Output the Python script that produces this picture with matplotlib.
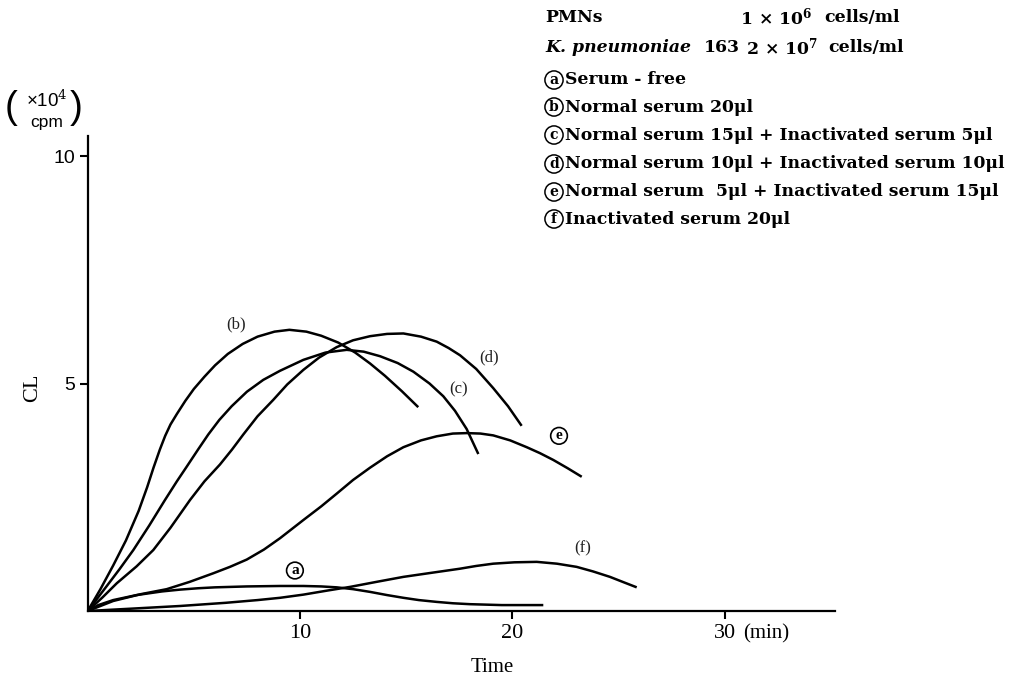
import matplotlib
matplotlib.use("Agg")
import matplotlib.pyplot as plt

plt.rcParams["font.family"] = ["Liberation Serif", "DejaVu Serif"]
plt.rcParams["mathtext.fontset"] = "custom"
plt.rcParams["mathtext.rm"] = "DejaVu Serif"
plt.rcParams["mathtext.bf"] = "DejaVu Serif:bold"
plt.rcParams["mathtext.it"] = "DejaVu Serif:italic"

# Chemiluminescence of PMNs with K. pneumoniae 163 (x: min, y: x10^4 cpm)
t_a = [0, 0.5, 1.2, 2.3, 3.5, 4.35, 5.2, 6.0, 7.5, 9.06, 10.16, 11.0, 11.73, 12.5, 13.3, 14.1, 14.87,
       15.6, 16.44, 17.2, 18.0, 19.5, 21.46]
cl_a = [0, 0.13, 0.24, 0.35, 0.43, 0.47, 0.5, 0.52, 0.54, 0.55, 0.55, 0.54, 0.52, 0.48, 0.42, 0.35, 0.29,
        0.24, 0.2, 0.17, 0.15, 0.13, 0.13]

t_b = [0, 0.6, 1.2, 1.8, 2.4, 2.8, 3.1, 3.4, 3.65, 3.9, 4.2, 4.6, 5.0, 5.5, 6.0, 6.6, 7.3, 8.0, 8.8, 9.5,
       10.3, 11.0, 11.8, 12.6, 13.3, 14.0, 14.8, 15.57]
cl_b = [0, 0.48, 1.0, 1.55, 2.2, 2.72, 3.15, 3.55, 3.85, 4.1, 4.33, 4.62, 4.88, 5.15, 5.4, 5.65, 5.87, 6.03, 6.14, 6.18,
        6.14, 6.05, 5.9, 5.68, 5.44, 5.17, 4.83, 4.48]

t_c = [0, 0.9, 1.5, 2.15, 2.9, 3.64, 4.2, 4.66, 5.2, 5.68, 6.2, 6.78, 7.5, 8.27, 9.06, 10.16, 11.2, 12.2,
       13.0, 13.77, 14.6, 15.34, 16.1, 16.75, 17.3, 17.85, 18.4]
cl_c = [0, 0.55, 0.92, 1.34, 1.88, 2.44, 2.85, 3.17, 3.55, 3.88, 4.2, 4.5, 4.82, 5.08, 5.28, 5.52, 5.68, 5.74,
        5.7, 5.6, 5.45, 5.26, 5.0, 4.72, 4.4, 4.0, 3.45]

t_d = [0, 0.7, 1.37, 2.3, 3.09, 3.9, 4.82, 5.5, 6.23, 6.8, 7.33, 8.0, 8.74, 9.4, 10.16, 10.9, 11.73, 12.5,
       13.3, 14.1, 14.87, 15.7, 16.44, 17.0, 17.54, 18.3, 19.1, 19.8, 20.44]
cl_d = [0, 0.3, 0.61, 0.98, 1.34, 1.83, 2.44, 2.85, 3.22, 3.55, 3.88, 4.28, 4.64, 4.98, 5.3, 5.57, 5.8, 5.95,
        6.04, 6.09, 6.1, 6.03, 5.92, 5.78, 5.62, 5.32, 4.9, 4.5, 4.07]

t_e = [0, 1.2, 2.5, 3.72, 4.8, 5.92, 6.7, 7.49, 8.3, 9.06, 10.16, 11.0, 11.73, 12.5, 13.3, 14.1, 14.87,
       15.7, 16.44, 17.2, 17.85, 18.5, 19.1, 19.9, 20.68, 21.3, 21.93, 22.6, 23.27]
cl_e = [0, 0.22, 0.37, 0.48, 0.64, 0.83, 0.97, 1.13, 1.35, 1.6, 2.0, 2.3, 2.58, 2.88, 3.15, 3.4, 3.6,
        3.75, 3.84, 3.9, 3.91, 3.9, 3.86, 3.75, 3.6, 3.47, 3.32, 3.14, 2.95]

t_f = [0, 2.0, 4.35, 6.5, 8.0, 9.06, 10.16, 11.3, 12.36, 13.6, 14.87, 16.2, 17.54, 18.3, 19.1, 20.1,
       21.15, 22.1, 23.03, 23.8, 24.6, 25.2, 25.86]
cl_f = [0, 0.05, 0.11, 0.18, 0.24, 0.29, 0.36, 0.45, 0.53, 0.64, 0.75, 0.84, 0.93, 0.99, 1.04, 1.07,
        1.08, 1.04, 0.97, 0.87, 0.75, 0.64, 0.52]

x_ticks = [10, 20, 30]
x_tick_labels = ["10", "20", "30"]
y_ticks = [5, 10]
y_tick_labels = ["5", "10"]

legend_letters = ["a", "b", "c", "d", "e", "f"]
legend_texts = [
    "Serum - free",
    "Normal serum 20\u03bcl",
    "Normal serum 15\u03bcl + Inactivated serum 5\u03bcl",
    "Normal serum 10\u03bcl + Inactivated serum 10\u03bcl",
    "Normal serum  5\u03bcl + Inactivated serum 15\u03bcl",
    "Inactivated serum 20\u03bcl",
]

W, H = 1023, 681
fig = plt.figure(figsize=(W / 100, H / 100), dpi=100)


def px(x, y):
    return x / W, 1 - y / H


ax = fig.add_axes([87.7 / W, 70 / H, 747.3 / W, 475 / H])
ax.set_xlim(0, 35.2)
ax.set_ylim(0, 10.44)

for t, cl in [(t_a, cl_a), (t_b, cl_b), (t_c, cl_c), (t_d, cl_d), (t_e, cl_e), (t_f, cl_f)]:
    ax.plot(t, cl, color="black", lw=1.8, solid_capstyle="butt", solid_joinstyle="round")

for s in ["top", "right"]:
    ax.spines[s].set_visible(False)
for s in ["left", "bottom"]:
    ax.spines[s].set_linewidth(1.6)

ax.set_xticks(x_ticks)
ax.set_xticklabels(x_tick_labels, fontsize=16)
ax.set_yticks(y_ticks)
ax.set_yticklabels(y_tick_labels, fontsize=14, family="Liberation Sans")
ax.tick_params(direction="out", length=6, width=1.5, pad=3)

# curve labels
for lbl, x, y in [("(b)", 7.01, 6.29), ("(c)", 17.46, 4.86), ("(d)", 18.92, 5.58), ("(f)", 23.3, 1.38)]:
    ax.text(x, y, lbl, ha="center", va="center", fontsize=12, color="#222222")
for lbl, x, y in [("a", 9.76, 0.89), ("e", 22.2, 3.85)]:
    ax.text(x, y, lbl, ha="center", va="center", fontsize=11, fontweight="bold",
            bbox=dict(boxstyle="circle,pad=0.12", fc="white", ec="black", lw=1.2))

# axis titles
fig.text(*px(492, 668), "Time", ha="center", va="center", fontsize=15)
fig.text(*px(766, 634), "(min)", ha="center", va="center", fontsize=15)
fig.text(*px(33, 388), "CL", ha="center", va="center", fontsize=16, rotation=90)
fig.text(*px(11, 108), "(", ha="center", va="center", fontsize=28, family="Liberation Sans")
fig.text(*px(76, 108), ")", ha="center", va="center", fontsize=28, family="Liberation Sans")
fig.text(*px(47, 100), "\u00d710$^4$", ha="center", va="center", fontsize=13.5, family="Liberation Sans")
fig.text(*px(47, 122), "cpm", ha="center", va="center", fontsize=12.5, family="Liberation Sans")

# conditions
leg = dict(ha="left", va="center", fontsize=12.4, fontweight="bold", family="DejaVu Serif")
fig.text(*px(545, 17), "PMNs", **leg)
fig.text(*px(740, 17), "1 \u00d7 10$^{\\mathbf{6}}$", **leg)
fig.text(*px(824, 17), "cells/ml", **leg)
fig.text(*px(545, 47), "K. pneumoniae", style="italic", **leg)
fig.text(*px(704, 47), "163", **leg)
fig.text(*px(746, 47), "2 \u00d7 10$^{\\mathbf{7}}$", **leg)
fig.text(*px(828, 47), "cells/ml", **leg)

rows_y = [80, 107, 135, 164, 192, 219]
for letter, txt, y in zip(legend_letters, legend_texts, rows_y):
    fig.text(*px(554, y), letter, ha="center", va="center", fontsize=10, fontweight="bold",
             family="DejaVu Serif",
             bbox=dict(boxstyle="circle,pad=0.15", fc="white", ec="black", lw=1.1))
    fig.text(*px(565, y), txt, **leg)

fig.savefig("out.png", dpi=100)
